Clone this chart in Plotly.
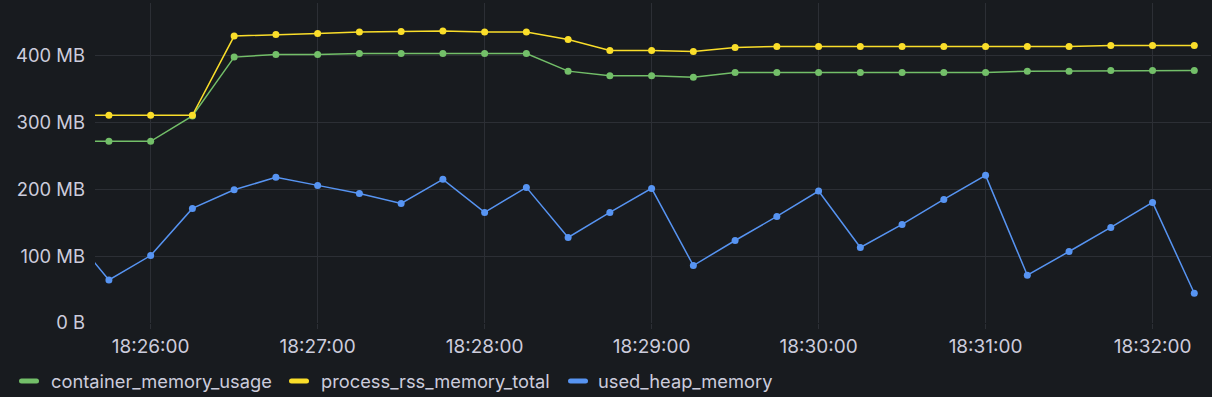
import plotly.graph_objects as go

# ---- data (values in MB) ----
times = ["18:25:30", "18:25:45", "18:26:00", "18:26:15", "18:26:30", "18:26:45", "18:27:00",
         "18:27:15", "18:27:30", "18:27:45", "18:28:00", "18:28:15", "18:28:30", "18:28:45",
         "18:29:00", "18:29:15", "18:29:30", "18:29:45", "18:30:00", "18:30:15", "18:30:30",
         "18:30:45", "18:31:00", "18:31:15", "18:31:30", "18:31:45", "18:32:00", "18:32:15"]

container_memory_usage = [272, 272, 272, 310, 398, 402, 402, 403.5, 403.5, 403.5, 403.5, 403.5,
                          377, 370, 370, 368, 375, 375, 375, 375, 375, 375, 375, 377, 377,
                          378, 378, 378]
process_rss_memory_total = [311, 311, 311, 311, 429.5, 432, 433.5, 435.5, 436.5, 437, 435.5,
                            435.5, 424.5, 408, 408, 406.5, 412.5, 414, 414, 414, 414, 414,
                            414, 414, 414, 415.5, 415.5, 415.5]
used_heap_memory = [140, 64.5, 101, 171.5, 199.5, 218, 206, 194, 179, 215, 165.5, 203, 128,
                    165.5, 201.5, 86, 123.5, 159.5, 197.5, 113, 147.5, 185, 221, 71.5, 107,
                    143, 180.5, 44.5]

series_names = ["container_memory_usage", "process_rss_memory_total", "used_heap_memory"]
series_colors = ["#73BF69", "#FADE2A", "#5794F2"]

y_tickvals = [0, 100, 200, 300, 400]
y_ticktext = ["0 B", "100 MB", "200 MB", "300 MB", "400 MB"]
x_tickvals = ["18:26:00", "18:27:00", "18:28:00", "18:29:00", "18:30:00", "18:31:00", "18:32:00"]
x_range = ["18:25:40", "18:32:21"]
y_range = [0, 479]

DAY = "2024-01-01 "
x = [DAY + t for t in times]

# ---- layout geometry ----
W, H = 1212, 397
L, R, T, B = 95, 1, 3, 74
PW, PH = W - L - R, H - T - B
BG = "#181b1f"
GRID = "#2c2f35"
TXT = "#ccccdc"
FONT = "Inter, sans-serif"


def px2paper_x(px):
    return (px - L) / PW


def px2paper_y(py):
    return (H - B - py) / PH


fig = go.Figure()
for name, vals, col in zip(series_names,
                           [container_memory_usage, process_rss_memory_total, used_heap_memory],
                           series_colors):
    fig.add_trace(go.Scatter(
        x=x, y=vals, name=name, mode="lines+markers",
        line=dict(color=col, width=1.5),
        marker=dict(color=col, size=7),
        showlegend=False,
    ))

# ---- manual legend (Grafana style) ----
legend_items = [(19, 52), (289, 322), (568, 599)]  # (dash start px, text start px)
legend_y = 381
shapes = []
annotations = []
for (dx, tx), name, col in zip(legend_items, series_names, series_colors):
    shapes.append(dict(
        type="path", xref="paper", yref="paper",
        xsizemode="pixel", ysizemode="pixel",
        xanchor=px2paper_x(dx), yanchor=px2paper_y(legend_y),
        path="M 2.5,-2.5 L 17.5,-2.5 Q 20,-2.5 20,0 Q 20,2.5 17.5,2.5 L 2.5,2.5 "
             "Q 0,2.5 0,0 Q 0,-2.5 2.5,-2.5 Z",
        fillcolor=col, line=dict(width=0),
    ))
    annotations.append(dict(
        text=name, xref="paper", yref="paper",
        x=px2paper_x(tx - 3), y=px2paper_y(legend_y),
        xanchor="left", yanchor="middle", showarrow=False,
        font=dict(family=FONT, size=18.3, color=TXT),
    ))

fig.update_layout(
    width=W, height=H,
    margin=dict(l=L, r=R, t=T, b=B, pad=0),
    paper_bgcolor=BG, plot_bgcolor=BG,
    font=dict(family=FONT, size=18, color=TXT),
    shapes=shapes, annotations=annotations,
    showlegend=False,
    hovermode=False,
)
fig.update_xaxes(
    type="date",
    range=[DAY + x_range[0], DAY + x_range[1]],
    tickvals=[DAY + t for t in x_tickvals],
    ticktext=x_tickvals,
    showgrid=True, gridcolor=GRID, gridwidth=1,
    ticks="outside", ticklen=5, tickcolor=GRID, tickwidth=1,
    showline=False, zeroline=False,
    tickfont=dict(family=FONT, size=19, color=TXT),
    ticklabelstandoff=1,
)
fig.update_yaxes(
    range=y_range,
    tickvals=y_tickvals, ticktext=y_ticktext,
    showgrid=True, gridcolor=GRID, gridwidth=1,
    ticks="", showline=False, zeroline=False,
    tickfont=dict(family=FONT, size=18.4, color=TXT),
    ticklabelstandoff=9,
)

fig.write_html("out.html")
